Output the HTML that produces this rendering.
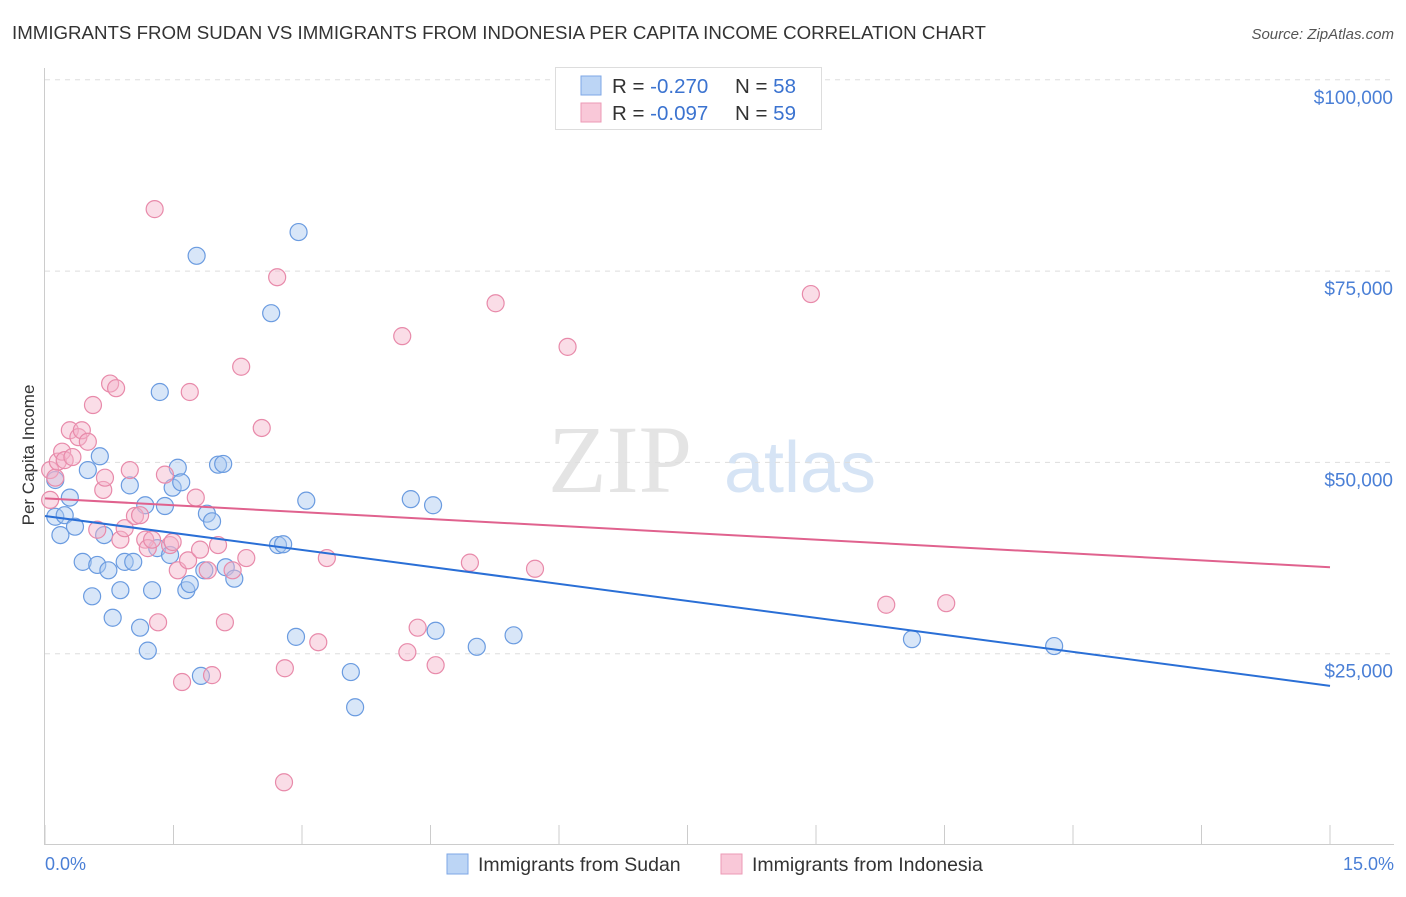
<!DOCTYPE html>
<html><head><meta charset="utf-8"><style>
body{margin:0;background:#fff;font-family:"Liberation Sans",sans-serif;}
</style></head><body>
<svg id="c" width="1406" height="892" xmlns="http://www.w3.org/2000/svg" font-family="Liberation Sans, sans-serif">
<text x="12" y="39" font-size="18.7" fill="#333">IMMIGRANTS FROM SUDAN VS IMMIGRANTS FROM INDONESIA PER CAPITA INCOME CORRELATION CHART</text>
<text x="1394" y="39" font-size="15" fill="#555" text-anchor="end" font-style="italic">Source: ZipAtlas.com</text>
<text x="620" y="492" font-size="96" fill="#e4e4e4" font-family="Liberation Serif, serif" text-anchor="middle">ZIP</text>
<text x="800" y="492" font-size="72" fill="#d6e4f5" text-anchor="middle">atlas</text>
<g id="grid"></g>
<g id="axes"></g>
<g id="marks"></g>
<text x="34" y="455" font-size="17" fill="#333" text-anchor="middle" transform="rotate(-90 34 455)">Per Capita Income</text>
<text x="45" y="870" font-size="18" fill="#4a7fd6">0.0%</text>
<text x="1394" y="870" font-size="18" fill="#4a7fd6" text-anchor="end">15.0%</text>
<g>
<rect x="555.5" y="67.5" width="266" height="62" fill="#fff" stroke="#ddd"/>
<rect x="581" y="76" width="20" height="19" fill="#bcd5f5" stroke="#7ea7e6"/>
<rect x="581" y="103" width="20" height="19" fill="#f9c8d8" stroke="#ec9ab6"/>
<text x="612" y="93" font-size="20.5" fill="#333">R = <tspan fill="#3b73d0">-0.270</tspan><tspan x="735">N = </tspan><tspan fill="#3b73d0">58</tspan></text>
<text x="612" y="120" font-size="20.5" fill="#333">R = <tspan fill="#3b73d0">-0.097</tspan><tspan x="735">N = </tspan><tspan fill="#3b73d0">59</tspan></text>
</g>
<g>
<rect x="447" y="854" width="21" height="20" fill="#bcd5f5" stroke="#7ea7e6"/>
<text x="478" y="871" font-size="19.5" fill="#333">Immigrants from Sudan</text>
<rect x="721" y="854" width="21" height="20" fill="#f9c8d8" stroke="#ec9ab6"/>
<text x="752" y="871" font-size="19.5" fill="#333">Immigrants from Indonesia</text>
</g>
</svg>
<script>
const yTicks=[25000,50000,75000,100000];
const yTickLabels=["$25,000","$50,000","$75,000","$100,000"];
const xTicks=[0,1.5,3,4.5,6,7.5,9,10.5,12,13.5,15];
const sudanX=[0.12,0.18,0.12,0.23,0.29,0.35,0.44,0.50,0.55,0.61,0.64,0.69,0.74,0.79,0.88,0.93,0.99,1.03,1.11,1.17,1.20,1.25,1.31,1.34,1.40,1.46,1.49,1.55,1.59,1.65,1.69,1.77,1.82,1.86,1.89,1.95,2.02,2.08,2.11,2.21,2.64,2.72,2.78,2.93,2.96,3.05,3.57,3.62,4.27,4.53,4.56,5.04,5.47,10.12,11.78];
const sudanY=[42.9,40.5,47.7,43.1,45.4,41.6,37.0,49.0,32.5,36.6,50.8,40.5,35.9,29.7,33.3,37.0,47.0,37.0,28.4,44.4,25.4,33.3,38.8,59.2,44.3,37.9,46.7,49.3,47.4,33.3,34.1,77.0,22.1,35.9,43.3,42.3,49.7,49.8,36.3,34.8,69.5,39.2,39.3,27.2,80.1,45.0,22.6,18.0,45.2,44.4,28.0,25.9,27.4,26.9,26.0];
const indoX=[0.06,0.12,0.06,0.15,0.20,0.23,0.29,0.32,0.39,0.43,0.50,0.56,0.61,0.68,0.70,0.76,0.83,0.88,0.93,0.99,1.05,1.11,1.17,1.20,1.25,1.28,1.32,1.40,1.46,1.49,1.55,1.60,1.67,1.69,1.76,1.81,1.90,1.95,2.02,2.10,2.19,2.29,2.35,2.53,2.71,2.80,2.79,3.19,3.29,4.17,4.23,4.35,4.56,4.96,5.26,5.72,6.10,8.94,9.82,10.52];
const indoY=[49.0,48.0,45.1,50.1,51.4,50.3,54.2,50.7,53.3,54.2,52.7,57.5,41.2,46.4,48.0,60.3,59.7,39.9,41.4,49.0,43.0,43.1,39.9,38.8,39.9,83.1,29.1,48.4,39.2,39.6,35.9,21.3,37.2,59.2,45.4,38.6,35.9,22.2,39.2,29.1,35.9,62.5,37.5,54.5,74.2,23.1,8.2,26.5,37.5,66.5,25.2,28.4,23.5,36.9,70.8,36.1,65.1,72.0,31.4,31.6];
const sudanTrend=[43.0,20.8];
const indoTrend=[45.3,36.3];
const NS="http://www.w3.org/2000/svg";
const xs=v=>45+v*(1330-45)/15;
const ys=v=>845-v*(191.3/25000);
function mk(t,a,p){const e=document.createElementNS(NS,t);for(const k in a)e.setAttribute(k,a[k]);p.appendChild(e);return e;}
const grid=document.getElementById('grid'),axes=document.getElementById('axes'),marks=document.getElementById('marks');
yTicks.forEach((v,i)=>{
 const l=mk('line',{x1:45,x2:1394,y1:ys(v),y2:ys(v),stroke:'#ddd','stroke-dasharray':'5,5'},grid);
 
 
 const t=mk('text',{x:1393,y:ys(v)+24,'font-size':19,fill:'#4a7fd6','text-anchor':'end'},axes);
 t.textContent=yTickLabels[i];
 
 
});
const ya=mk('line',{x1:44.5,x2:44.5,y1:68,y2:845,stroke:'#ccc'},axes);


const xa=mk('line',{x1:45,x2:1394,y1:844.5,y2:844.5,stroke:'#ccc'},axes);


xTicks.forEach(v=>{
 const t=mk('line',{x1:xs(v),x2:xs(v),y1:825,y2:845,stroke:'#ccc'},axes);
 
 
});
function pts(X,Y,fill,stroke,name){
 X.forEach((x,i)=>{
  const c=mk('circle',{cx:xs(x),cy:ys(Y[i]*1000),r:8.5,fill:fill,'fill-opacity':0.45,stroke:stroke,'stroke-width':1.2},marks);
  
  
 });
}
pts(sudanX,sudanY,'#a9c8f0','#6a9be0','sudan-point');
pts(indoX,indoY,'#f5b4ca','#e88aaa','indonesia-point');
const l1=mk('line',{x1:xs(0),y1:ys(sudanTrend[0]*1000),x2:xs(15),y2:ys(sudanTrend[1]*1000),stroke:'#2a6fd6','stroke-width':2},marks);


const l2=mk('line',{x1:xs(0),y1:ys(indoTrend[0]*1000),x2:xs(15),y2:ys(indoTrend[1]*1000),stroke:'#e0628e','stroke-width':2},marks);


</script>
</body></html>
